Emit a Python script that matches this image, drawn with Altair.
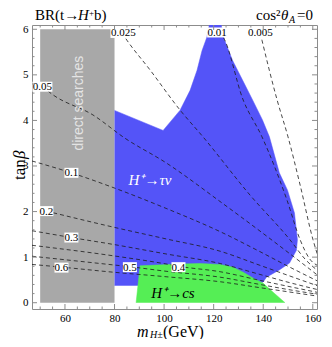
import altair as alt
import pandas as pd

SERIF = "Liberation Serif"
SANS = "Liberation Sans"
FRAME = "#8c8c8c"
BLUE = "#5454f8"
GREEN = "#55ee55"
GRAY = "#a8a8a8"
DASH = "#1a1a1a"

W, H = 285, 284

# ---------------- axes ----------------
X_DOMAIN = [46.7, 161.7]
Y_DOMAIN = [-0.138, 6.094]
X_MAJOR = [60, 80, 100, 120, 140, 160]
X_MINOR = [50, 55, 65, 70, 75, 85, 90, 95, 105, 110, 115, 125, 130, 135, 145, 150, 155]
Y_MAJOR = [0, 1, 2, 3, 4, 5, 6]
Y_MINOR = [0.2, 0.4, 0.6, 0.8, 1.2, 1.4, 1.6, 1.8, 2.2, 2.4, 2.6, 2.8, 3.2, 3.4, 3.6, 3.8,
           4.2, 4.4, 4.6, 4.8, 5.2, 5.4, 5.6, 5.8]

# ---------------- regions ----------------
GRAY_M = [50, 80]
GRAY_T = [0, 6]

BLUE_M = [80.0, 99.6, 106.4, 110.5, 113.3, 115.3, 117.3, 118.6, 122.6, 124.4, 127.6, 131.6,
          135.7, 139.7, 142.5, 146.5, 149.8, 152.6, 153.8, 153.4, 150.6, 146.5, 141.3, 139.9,
          100.0, 89.6, 80.0]
BLUE_T = [4.22, 3.78, 4.22, 4.66, 5.10, 5.53, 5.83, 6.20, 6.20, 5.76, 5.32, 4.89,
          4.45, 4.01, 3.64, 2.85, 2.47, 1.97, 1.38, 1.15, 0.87, 0.72, 0.56, 0.45,
          0.42, 0.38, 0.38]

GREEN_M = [88.7, 90.3, 106.4, 114.5, 122.6, 127.8, 131.9, 135.9, 139.9, 144.0, 148.8]
GREEN_T = [0.0, 0.81, 0.85, 0.86, 0.84, 0.78, 0.67, 0.54, 0.43, 0.23, 0.0]

# ---------------- BR contours ----------------
BR_0005_M = [138.8, 139.5, 145.6, 150.0, 154.9, 160.1, 162.5]
BR_0005_T = [5.92, 5.76, 4.45, 3.64, 2.58, 1.38, 0.95]
BR_001_M = [122.2, 123.8, 131.9, 139.5, 149.6, 154.9, 158.5, 162.5]
BR_001_T = [5.93, 5.83, 4.45, 3.64, 2.25, 1.38, 0.98, 0.80]
BR_0025_M = [83.0, 85.0, 94.3, 106.4, 115.7, 134.7, 150.8, 157.0, 162.5]
BR_0025_T = [5.92, 5.76, 5.11, 4.23, 3.64, 2.36, 1.38, 0.95, 0.68]
BR_005_M = [50.9, 55.2, 71.3, 84.2, 100.8, 122.6, 142.4, 154.9, 162.5]
BR_005_T = [4.74, 4.56, 4.12, 3.61, 3.07, 2.22, 1.42, 0.90, 0.58]
BR_01_M = [46.7, 62.6, 79.8, 100.8, 122.6, 138.7, 150.0, 162.5]
BR_01_T = [3.11, 2.85, 2.52, 2.07, 1.56, 1.12, 0.80, 0.46]
BR_02_M = [52.5, 79.4, 100.8, 122.6, 138.7, 150.0, 162.5]
BR_02_T = [2.01, 1.66, 1.40, 1.13, 0.82, 0.60, 0.36]
BR_03_M = [46.7, 62.6, 79.4, 100.8, 122.6, 138.7, 150.0, 162.5]
BR_03_T = [1.58, 1.43, 1.28, 1.07, 0.86, 0.62, 0.45, 0.28]
BR_04_M = [46.7, 79.4, 100.8, 105.8, 122.6, 138.7, 150.0, 162.5]
BR_04_T = [1.26, 1.03, 0.85, 0.80, 0.68, 0.49, 0.36, 0.22]
BR_05_M = [46.7, 79.4, 86.2, 100.8, 122.6, 138.7, 150.0, 162.5]
BR_05_T = [1.02, 0.83, 0.79, 0.69, 0.56, 0.40, 0.29, 0.18]
BR_06_M = [46.7, 58.8, 79.4, 100.8, 122.6, 138.7, 150.0, 162.5]
BR_06_T = [0.84, 0.78, 0.67, 0.57, 0.46, 0.33, 0.24, 0.14]

LABEL_TEXT = ["0.025", "0.01", "0.005", "0.05", "0.1", "0.2", "0.3", "0.6", "0.5", "0.4"]
LABEL_M = [83.6, 121.4, 138.9, 50.9, 62.6, 52.5, 62.6, 58.6, 86.2, 105.8]
LABEL_T = [5.92, 5.93, 5.92, 4.74, 2.85, 2.01, 1.43, 0.77, 0.78, 0.78]

# ---------------- scales / encodings ----------------
XS = alt.Scale(domain=X_DOMAIN, nice=False, zero=False)
YS = alt.Scale(domain=Y_DOMAIN, nice=False, zero=False)
XAX = alt.Axis(values=X_MAJOR, ticks=False, domain=False, grid=False, labelFont=SERIF,
               labelFontSize=11, labelColor="black", labelPadding=3, title=None,
               labelFlush=False, labelOverlap=False)
YAX = alt.Axis(values=Y_MAJOR, ticks=False, domain=False, grid=False, labelFont=SERIF,
               labelFontSize=11, labelColor="black", labelPadding=4, title=None,
               labelFlush=False, labelOverlap=False)


def X(f):
    return alt.X(f, type="quantitative", scale=XS, axis=XAX)


def Y(f):
    return alt.Y(f, type="quantitative", scale=YS, axis=YAX)


layers = []

# gray excluded band
gdf = pd.DataFrame({"m": [GRAY_M[0]], "m1": [GRAY_M[1]], "t": [GRAY_T[0]], "t1": [GRAY_T[1]]})
layers.append(alt.Chart(gdf).mark_rect(color=GRAY).encode(
    x=X("m"), x2="m1", y=Y("t"), y2="t1"))


def polygon(ms, ts, color):
    df = pd.DataFrame({"m": ms, "t": ts, "i": list(range(len(ms)))})
    return alt.Chart(df).mark_line(fill=color, stroke=color, strokeWidth=0.5, clip=True).encode(
        x=X("m"), y=Y("t"), order="i:Q")


layers.append(polygon(BLUE_M, BLUE_T, BLUE))
layers.append(polygon(GREEN_M, GREEN_T, GREEN))

contours = [
    ("0.005", BR_0005_M, BR_0005_T), ("0.01", BR_001_M, BR_001_T),
    ("0.025", BR_0025_M, BR_0025_T), ("0.05", BR_005_M, BR_005_T),
    ("0.1", BR_01_M, BR_01_T), ("0.2", BR_02_M, BR_02_T), ("0.3", BR_03_M, BR_03_T),
    ("0.4", BR_04_M, BR_04_T), ("0.5", BR_05_M, BR_05_T), ("0.6", BR_06_M, BR_06_T),
]
rows = []
for name, ms, ts in contours:
    for i, (m, t) in enumerate(zip(ms, ts)):
        rows.append({"br": name, "m": m, "t": t, "i": i})
cdf = pd.DataFrame(rows)
layers.append(alt.Chart(cdf).mark_line(color=DASH, strokeWidth=0.8, strokeDash=[4, 3],
                                       clip=True, interpolate="monotone").encode(
    x=X("m"), y=Y("t"), detail="br:N", order="i:Q"))

# label boxes + labels
ldf = pd.DataFrame({"text": LABEL_TEXT, "m": LABEL_M, "t": LABEL_T})
ldf["n"] = ldf["text"].str.len()

REF = 26.0  # symbol size side (px); custom path coords are scaled by REF/2


def box_path(w, h):
    a = w / REF
    b = h / REF
    return f"M-{a:.4f},-{b:.4f}L{a:.4f},-{b:.4f}L{a:.4f},{b:.4f}L-{a:.4f},{b:.4f}Z"


layers.append(alt.Chart(ldf).mark_point(filled=True, color="white", opacity=1, strokeWidth=0,
                                        size=REF * REF).encode(
    x=X("m"), y=Y("t"),
    shape=alt.Shape("n:O", scale=alt.Scale(domain=[3, 4, 5],
                                           range=[box_path(14, 10), box_path(20, 10),
                                                  box_path(26, 10)]), legend=None)))
layers.append(alt.Chart(ldf).mark_text(font=SERIF, fontSize=11, color="black",
                                       baseline="middle", align="center", dy=0.5).encode(
    x=X("m"), y=Y("t"), text="text:N"))

# region annotations
ann = pd.DataFrame({"m": [65.6], "t": [4.38], "text": ["direct searches"]})
layers.append(alt.Chart(ann).mark_text(font=SANS, fontSize=14, color="#e4e4e4", angle=270,
                                       baseline="middle", align="center").encode(
    x=X("m"), y=Y("t"), text="text:N"))
ann2 = pd.DataFrame({"m": [94.3], "t": [2.69], "text": ["H\u207a\u2192\u03c4\u03bd"]})
layers.append(alt.Chart(ann2).mark_text(font=SERIF, fontSize=15, fontStyle="italic",
                                        color="white", baseline="middle", align="center").encode(
    x=X("m"), y=Y("t"), text="text:N"))
ann3 = pd.DataFrame({"m": [103.6], "t": [0.21], "text": ["H\u207a\u2192cs"]})
layers.append(alt.Chart(ann3).mark_text(font=SERIF, fontSize=15, fontStyle="italic",
                                        color="black", baseline="middle", align="center").encode(
    x=X("m"), y=Y("t"), text="text:N"))

# ---------------- inward frame ticks ----------------
for vals, ln in ((Y_MAJOR, 5), (Y_MINOR, 2.5)):
    d = pd.DataFrame({"t": vals})
    layers.append(alt.Chart(d).mark_rule(color=FRAME, strokeWidth=1).encode(
        y=Y("t"), x=alt.value(0), x2=alt.value(ln)))
    layers.append(alt.Chart(d).mark_rule(color=FRAME, strokeWidth=1).encode(
        y=Y("t"), x=alt.value(W - ln), x2=alt.value(W)))
for vals, ln in ((X_MAJOR, 5), (X_MINOR, 2.5)):
    d = pd.DataFrame({"m": vals})
    layers.append(alt.Chart(d).mark_rule(color=FRAME, strokeWidth=1).encode(
        x=X("m"), y=alt.value(H - ln), y2=alt.value(H)))
    layers.append(alt.Chart(d).mark_rule(color=FRAME, strokeWidth=1).encode(
        x=X("m"), y=alt.value(0), y2=alt.value(ln)))

# ---------------- titles as text pieces ----------------
ONE = pd.DataFrame({"a": [0]})


def piece(txt, x, y, size, italic=False, angle=0, align="left", baseline="alphabetic"):
    return alt.Chart(ONE).mark_text(text=txt, font=SERIF, fontSize=size,
                                    fontStyle="italic" if italic else "normal",
                                    align=align, baseline=baseline, angle=angle,
                                    color="black").encode(x=alt.value(x), y=alt.value(y))


layers += [
    piece("BR(t\u2192", 3, -5, 15),
    piece("H", 46, -5, 15, italic=True),
    piece("+", 57, -9, 9),
    piece("b)", 62, -5, 15),
    piece("cos\u00b2", 224, -5, 15),
    piece("\u03b8", 249, -5, 15, italic=True),
    piece("A", 257, -2, 10, italic=True),
    piece("=0", 265, -5, 15),
    piece("m", 105, 312, 16, italic=True),
    piece("H\u00b1", 118, 313, 10, italic=True),
    piece("(GeV)", 131, 312, 16),
    piece("tan", -7, 155, 17, angle=270),
    piece("\u03b2", -7, 134, 17, italic=True, angle=270),
]

chart = alt.layer(*layers).properties(
    width=W, height=H,
    padding={"left": 24, "top": 17, "right": 7, "bottom": 30},
    autosize=alt.AutoSizeParams(type="none"),
).configure_view(stroke=FRAME, strokeWidth=1)

chart.save("out.html", embed_options={"renderer": "svg", "actions": False})
